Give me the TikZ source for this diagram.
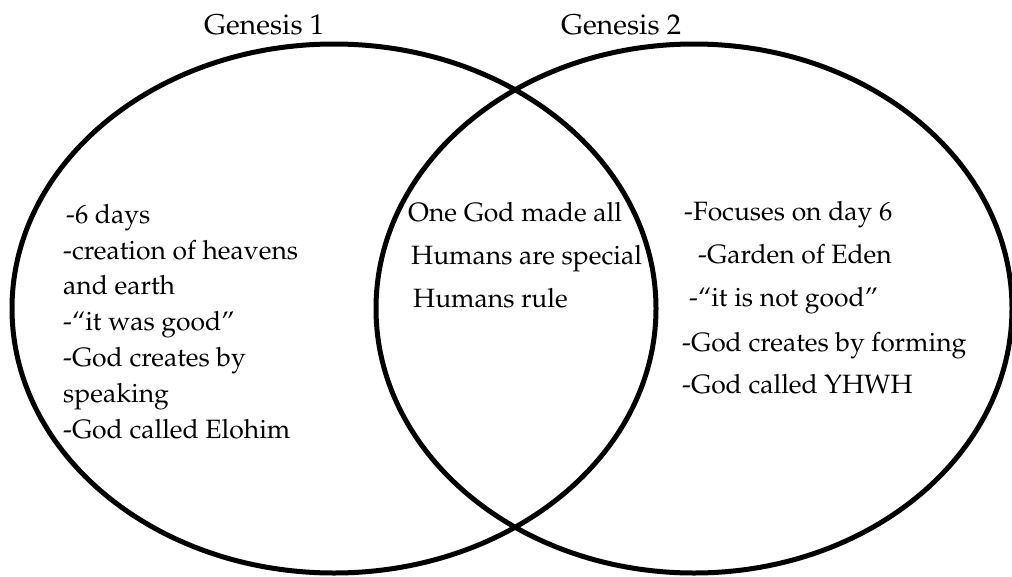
\documentclass[tikz,border=0pt]{standalone}
\usepackage[T1]{fontenc}
\usepackage{mathpazo}
\begin{document}
\begin{tikzpicture}[x=1pt,y=-1pt,
  ring/.style={line width=5pt,draw=black},
  txt/.style={anchor=base west,inner sep=0pt,font=\fontsize{26.5}{32}\selectfont},
  ttl/.style={anchor=base west,inner sep=0pt,font=\fontsize{28.6}{34}\selectfont}]
\useasboundingbox (0,0) rectangle (1012,576);
% circles
\draw[ring] (334,308.5) ellipse [x radius=322, y radius=264.5];
\draw[ring] (694,308.5) ellipse [x radius=318, y radius=264.5];
% titles
\node[ttl] (t1) at (204,34) {Genesis 1};
\node[ttl] (t2) at (561,34) {Genesis 2};
% left
\node[txt] (l1) at (66,223) {-6 days};
\node[txt] (l2) at (63,259) {-creation of heavens};
\node[txt] (l3) at (63,294.5) {and earth};
\node[txt] (l4) at (63,330) {-``it was good''};
\node[txt] (l5) at (63,366) {-God creates by};
\node[txt] (l6) at (63,402) {speaking};
\node[txt] (l7) at (63,438) {-God called Elohim};
% middle
\node[txt] (m1) at (408,221) {One God made all};
\node[txt] (m2) at (411,264) {Humans are special};
\node[txt] (m3) at (413,307) {Humans rule};
% right
\node[txt] (r1) at (684,220) {-Focuses on day 6};
\node[txt] (r2) at (698,263) {-Garden of Eden};
\node[txt] (r3) at (689,306) {-``it is not good''};
\node[txt] (r4) at (682,351) {-God creates by forming};
\node[txt] (r5) at (682,393) {-God called YHWH};
\end{tikzpicture}
\end{document}
